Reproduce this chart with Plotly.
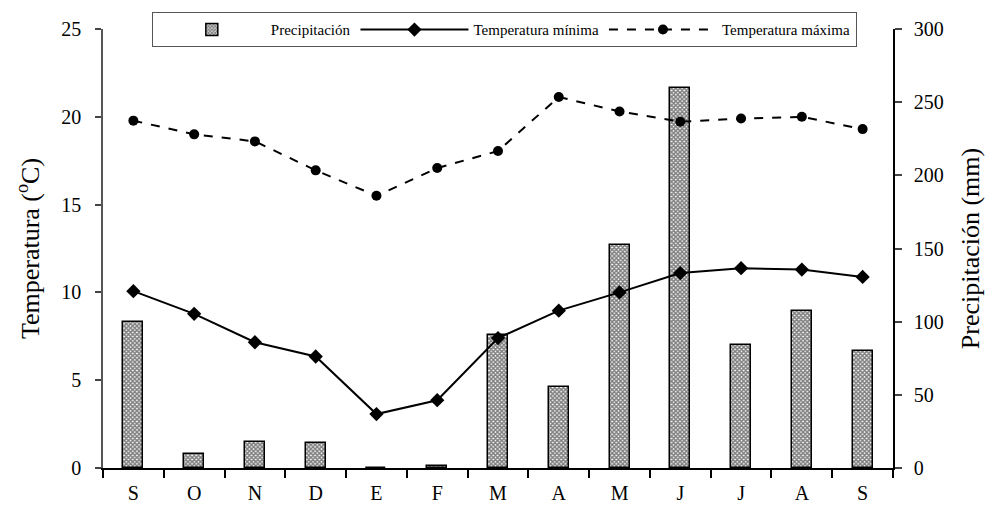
import plotly.graph_objects as go

months = ["S", "O", "N", "D", "E", "F", "M", "A", "M", "J", "J", "A", "S"]
precip = [100, 9.6, 17.8, 17, 0, 1.2, 91, 55.5, 152.5, 260, 84, 107.5, 80]
tmin = [10.07, 8.78, 7.16, 6.35, 3.07, 3.86, 7.4, 8.96, 10.0, 11.1, 11.38, 11.3, 10.88]
tmax = [19.78, 19.0, 18.6, 16.95, 15.5, 17.08, 18.05, 21.13, 20.3, 19.72, 19.9, 20.0, 19.3]

x = list(range(len(months)))
font = "Liberation Serif, Times New Roman, serif"

fig = go.Figure()
fig.add_trace(go.Bar(
    x=x, y=precip, name="Precipitación", yaxis="y", width=0.33,
    marker=dict(color="white", line=dict(color="black", width=1.5),
                pattern=dict(shape="x", size=3, solidity=0.75, fgcolor="black", bgcolor="white")),
))
fig.add_trace(go.Scatter(
    x=x, y=tmin, name="Temperatura mínima", yaxis="y2", mode="lines+markers",
    line=dict(color="black", width=2),
    marker=dict(symbol="diamond", size=11, color="black"),
))
fig.add_trace(go.Scatter(
    x=x, y=tmax, name="Temperatura máxima", yaxis="y2", mode="lines+markers",
    line=dict(color="black", width=2, dash="dash"),
    marker=dict(symbol="circle", size=10, color="black"),
))

fig.update_layout(
    width=997, height=505,
    margin=dict(l=103, r=104, t=29, b=37, autoexpand=False),
    paper_bgcolor="white", plot_bgcolor="white",
    font=dict(family=font, size=20, color="black"),
    showlegend=True,
    bargap=0,
    legend=dict(orientation="h", x=0.508, xanchor="center", y=1.038, yanchor="top",
                font=dict(size=15, family=font), bordercolor="#555555", borderwidth=1,
                bgcolor="white", traceorder="normal", itemwidth=108),
    xaxis=dict(range=[-0.5, len(months) - 0.5], tickmode="array", tickvals=x, ticktext=months,
               ticks="", showline=True, linecolor="black", linewidth=1.5, showgrid=False,
               zeroline=False, tickfont=dict(size=20), ticklabelstandoff=6,
               minor=dict(tickmode="array", tickvals=[i - 0.5 for i in range(len(months) + 1)],
                          ticks="outside", ticklen=8, tickwidth=1.5, tickcolor="black", showgrid=False)),
    yaxis=dict(range=[0, 300], dtick=50, side="right", ticks="outside", ticklen=7, tickwidth=1.5,
               showline=True, linecolor="black", linewidth=1.5, showgrid=False, zeroline=False,
               ticklabelstandoff=8,
               title=dict(text="Precipitación (mm)", standoff=18, font=dict(size=26)),
               tickfont=dict(size=20)),
    yaxis2=dict(range=[0, 25], dtick=5, side="left", overlaying="y", ticks="outside", ticklen=6,
                tickwidth=1.5, showline=True, linecolor="#555555", linewidth=1.5, showgrid=False,
                zeroline=False, ticklabelstandoff=10,
                title=dict(text="Temperatura (<sup>o</sup>C)", standoff=14, font=dict(size=26)),
                tickfont=dict(size=20)),
)

fig.write_html("out.html", config={"displayModeBar": False},
               post_script="document.body.style.margin='0';")
